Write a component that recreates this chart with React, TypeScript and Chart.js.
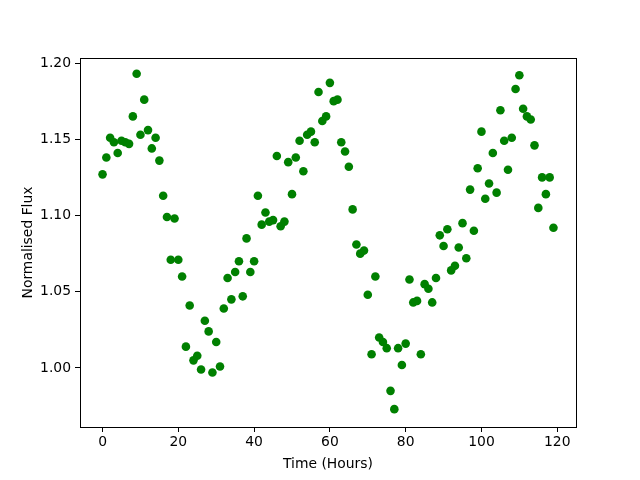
import React, { useEffect, useRef } from "react";
import { Chart, registerables } from "chart.js";

Chart.register(...registerables);

const hours: number[] = [
  0, 1, 2, 3, 4, 5, 6, 7, 8, 9, 10, 11, 12, 13, 14, 15, 16, 17, 18, 19,
  20, 21, 22, 23, 24, 25, 26, 27, 28, 29, 30, 31, 32, 33, 34, 35, 36, 37, 38, 39,
  40, 41, 42, 43, 44, 45, 46, 47, 48, 49, 50, 51, 52, 53, 54, 55, 56, 57, 58, 59,
  60, 61, 62, 63, 64, 65, 66, 67, 68, 69, 70, 71, 72, 73, 74, 75, 76, 77, 78, 79,
  80, 81, 82, 83, 84, 85, 86, 87, 88, 89, 90, 91, 92, 93, 94, 95, 96, 97, 98, 99,
  100, 101, 102, 103, 104, 105, 106, 107, 108, 109, 110, 111, 112, 113, 114, 115, 116, 117, 118, 119,
];

const flux: number[] = [
  1.127, 1.138, 1.151, 1.148, 1.141, 1.149, 1.148, 1.147, 1.165, 1.193,
  1.153, 1.176, 1.156, 1.144, 1.151, 1.136, 1.113, 1.099, 1.071, 1.098,
  1.071, 1.060, 1.014, 1.041, 1.005, 1.008, 0.999, 1.031, 1.024, 0.997,
  1.017, 1.001, 1.039, 1.059, 1.045, 1.063, 1.070, 1.047, 1.085, 1.063,
  1.070, 1.113, 1.094, 1.102, 1.096, 1.097, 1.139, 1.093, 1.096, 1.135,
  1.114, 1.138, 1.149, 1.129, 1.153, 1.155, 1.148, 1.181, 1.162, 1.165,
  1.187, 1.175, 1.176, 1.148, 1.142, 1.132, 1.104, 1.081, 1.075, 1.077,
  1.048, 1.009, 1.060, 1.020, 1.017, 1.013, 0.985, 0.973, 1.013, 1.002,
  1.016, 1.058, 1.043, 1.044, 1.009, 1.055, 1.052, 1.043, 1.059, 1.087,
  1.080, 1.091, 1.064, 1.067, 1.079, 1.095, 1.072, 1.117, 1.090, 1.131,
  1.155, 1.111, 1.121, 1.141, 1.115, 1.169, 1.149, 1.130, 1.151, 1.183,
  1.192, 1.170, 1.165, 1.163, 1.146, 1.105, 1.125, 1.114, 1.125, 1.092,
];

const xTicks: number[] = [0, 20, 40, 60, 80, 100, 120];
const yTicks: number[] = [1.0, 1.05, 1.1, 1.15, 1.2];

const FONT = "'DejaVu Sans', sans-serif";

const framePlugin = {
  id: "frame",
  afterDraw(chart: any) {
    const { ctx, chartArea } = chart;
    ctx.save();
    ctx.strokeStyle = "#000";
    ctx.lineWidth = 1;
    ctx.strokeRect(
      Math.round(chartArea.left) + 0.5,
      Math.round(chartArea.top) + 0.5,
      Math.round(chartArea.right - chartArea.left),
      Math.round(chartArea.bottom - chartArea.top)
    );
    ctx.restore();
  },
};

export default function App() {
  const ref = useRef<HTMLCanvasElement | null>(null);
  useEffect(() => {
    document.body.style.margin = "0";
    const canvas = ref.current!;
    const chart = new Chart(canvas, {
      type: "scatter",
      data: {
        datasets: [
          {
            data: hours.map((h, i) => ({ x: h, y: flux[i] })),
            backgroundColor: "#008000",
            borderColor: "#008000",
            borderWidth: 0,
            pointRadius: 4.3,
            pointHoverRadius: 4.3,
          },
        ],
      },
      options: {
        animation: false,
        responsive: false,
        devicePixelRatio: 1,
        layout: { padding: { top: 58, right: 64, left: 20, bottom: 7 } },
        plugins: { legend: { display: false }, tooltip: { enabled: false } },
        scales: {
          x: {
            type: "linear",
            min: -5.95,
            max: 124.95,
            afterBuildTicks: (s: any) => {
              s.ticks = xTicks.map((v) => ({ value: v }));
            },
            afterFit: (s: any) => {
              s.height = 46;
            },
            ticks: {
              color: "#000",
              font: { family: FONT, size: 13.9 },
              padding: 2,
              maxRotation: 0,
              callback: (v: any) => String(v),
            },
            grid: {
              display: true,
              drawOnChartArea: false,
              drawTicks: true,
              tickLength: 5,
              color: "#000",
            },
            border: { display: true, color: "#000" },
            title: {
              display: true,
              text: "Time (Hours)",
              color: "#000",
              font: { family: FONT, size: 13.9 },
              padding: { top: 2, bottom: 0 },
            },
          },
          y: {
            type: "linear",
            min: 0.9613,
            max: 1.2033,
            afterBuildTicks: (s: any) => {
              s.ticks = yTicks.map((v) => ({ value: v }));
            },
            afterFit: (s: any) => {
              s.width = 60;
            },
            ticks: {
              color: "#000",
              font: { family: FONT, size: 13.9 },
              padding: 4,
              callback: (v: any) => Number(v).toFixed(2),
            },
            grid: {
              display: true,
              drawOnChartArea: false,
              drawTicks: true,
              tickLength: 5,
              color: "#000",
            },
            border: { display: true, color: "#000" },
            title: {
              display: true,
              text: "Normalised Flux",
              color: "#000",
              font: { family: FONT, size: 13.9 },
              padding: { top: 0, bottom: 6 },
            },
          },
        },
      },
      plugins: [framePlugin],
    });
    return () => chart.destroy();
  }, []);
  return (
    <div style={{ position: "absolute", left: 0, top: 0, width: 640, height: 480, background: "#fff" }}>
      <canvas ref={ref} width={640} height={480} style={{ width: 640, height: 480 }} />
    </div>
  );
}
